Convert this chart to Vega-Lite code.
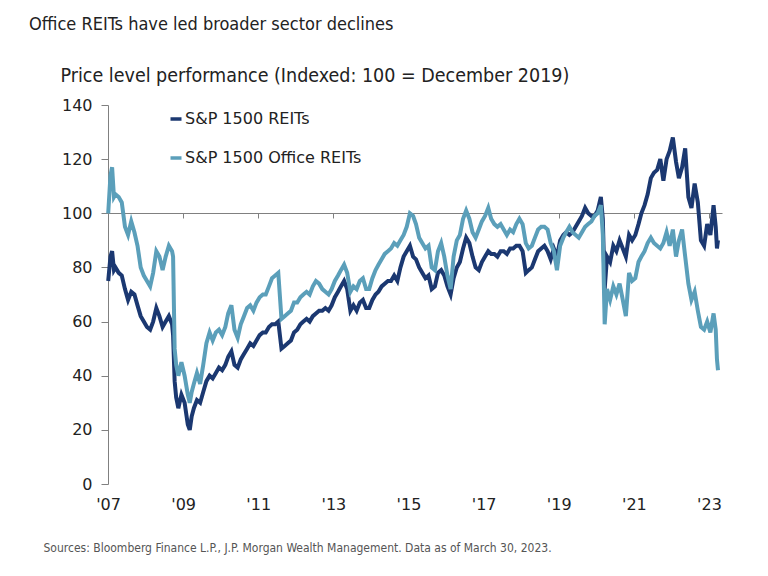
{
  "$schema": "https://vega.github.io/schema/vega-lite/v6.json",
  "width": 614,
  "height": 379,
  "autosize": {"type": "none"},
  "padding": {"left": 108, "top": 105, "right": 46, "bottom": 92},
  "background": "white",
  "title": {
    "text": "Office REITs have led broader sector declines",
    "anchor": "start",
    "frame": "group",
    "dx": -79,
    "dy": -27,
    "font": "DejaVu Sans Condensed, sans-serif",
    "fontSize": 18,
    "fontWeight": "normal",
    "color": "#222222"
  },
  "config": {"view": {"stroke": null}},
  "data": {
    "values": [
      {"d": "2007-01-03", "r": 75, "o": 100},
      {"d": "2007-01-25", "r": 84, "o": 114},
      {"d": "2007-02-10", "r": 86, "o": 117},
      {"d": "2007-02-28", "r": 79, "o": 106},
      {"d": "2007-03-15", "r": 80, "o": 107},
      {"d": "2007-04-15", "r": 78, "o": 106},
      {"d": "2007-05-15", "r": 77, "o": 104},
      {"d": "2007-06-15", "r": 72, "o": 95},
      {"d": "2007-07-15", "r": 68, "o": 92},
      {"d": "2007-08-15", "r": 71, "o": 97},
      {"d": "2007-09-15", "r": 70, "o": 93},
      {"d": "2007-10-15", "r": 66, "o": 88},
      {"d": "2007-11-15", "r": 62, "o": 80},
      {"d": "2007-12-15", "r": 60, "o": 77},
      {"d": "2008-01-15", "r": 58, "o": 75},
      {"d": "2008-02-15", "r": 57, "o": 73},
      {"d": "2008-03-15", "r": 60, "o": 78},
      {"d": "2008-04-15", "r": 65, "o": 86},
      {"d": "2008-05-15", "r": 62, "o": 84},
      {"d": "2008-06-15", "r": 58, "o": 79},
      {"d": "2008-07-15", "r": 60, "o": 84},
      {"d": "2008-08-15", "r": 62, "o": 88},
      {"d": "2008-09-15", "r": 59, "o": 86},
      {"d": "2008-09-25", "r": 55, "o": 84},
      {"d": "2008-10-10", "r": 38, "o": 50},
      {"d": "2008-10-25", "r": 32, "o": 44},
      {"d": "2008-11-15", "r": 28, "o": 40},
      {"d": "2008-12-15", "r": 33, "o": 45},
      {"d": "2009-01-15", "r": 30, "o": 40},
      {"d": "2009-02-15", "r": 22, "o": 33},
      {"d": "2009-03-06", "r": 20, "o": 30},
      {"d": "2009-03-25", "r": 25, "o": 34},
      {"d": "2009-04-15", "r": 28, "o": 37},
      {"d": "2009-05-15", "r": 31, "o": 41},
      {"d": "2009-06-15", "r": 30, "o": 37},
      {"d": "2009-07-15", "r": 34, "o": 44},
      {"d": "2009-08-15", "r": 38, "o": 52},
      {"d": "2009-09-15", "r": 40, "o": 56},
      {"d": "2009-10-15", "r": 39, "o": 53},
      {"d": "2009-11-15", "r": 41, "o": 56},
      {"d": "2009-12-15", "r": 43, "o": 57},
      {"d": "2010-01-15", "r": 42, "o": 55},
      {"d": "2010-02-15", "r": 44, "o": 58},
      {"d": "2010-03-15", "r": 47, "o": 63},
      {"d": "2010-04-15", "r": 49, "o": 66},
      {"d": "2010-05-15", "r": 44, "o": 57},
      {"d": "2010-06-15", "r": 43, "o": 54},
      {"d": "2010-07-15", "r": 46, "o": 59},
      {"d": "2010-08-15", "r": 48, "o": 62},
      {"d": "2010-09-15", "r": 50, "o": 65},
      {"d": "2010-10-15", "r": 52, "o": 66},
      {"d": "2010-11-15", "r": 51, "o": 64},
      {"d": "2010-12-15", "r": 53, "o": 67},
      {"d": "2011-01-15", "r": 55, "o": 69},
      {"d": "2011-02-15", "r": 56, "o": 70},
      {"d": "2011-03-15", "r": 56, "o": 70},
      {"d": "2011-04-15", "r": 58, "o": 73},
      {"d": "2011-05-15", "r": 59, "o": 76},
      {"d": "2011-06-15", "r": 59, "o": 77},
      {"d": "2011-07-15", "r": 60, "o": 78},
      {"d": "2011-08-15", "r": 50, "o": 61},
      {"d": "2011-09-15", "r": 51, "o": 62},
      {"d": "2011-10-15", "r": 52, "o": 63},
      {"d": "2011-11-15", "r": 53, "o": 64},
      {"d": "2011-12-15", "r": 56, "o": 67},
      {"d": "2012-01-15", "r": 57, "o": 67},
      {"d": "2012-02-15", "r": 59, "o": 69},
      {"d": "2012-03-15", "r": 60, "o": 70},
      {"d": "2012-04-15", "r": 61, "o": 71},
      {"d": "2012-05-15", "r": 60, "o": 70},
      {"d": "2012-06-15", "r": 62, "o": 73},
      {"d": "2012-07-15", "r": 63, "o": 75},
      {"d": "2012-08-15", "r": 64, "o": 74},
      {"d": "2012-09-15", "r": 64, "o": 72},
      {"d": "2012-10-15", "r": 65, "o": 71},
      {"d": "2012-11-15", "r": 64, "o": 70},
      {"d": "2012-12-15", "r": 66, "o": 72},
      {"d": "2013-01-15", "r": 69, "o": 75},
      {"d": "2013-02-15", "r": 71, "o": 77},
      {"d": "2013-03-15", "r": 73, "o": 79},
      {"d": "2013-04-15", "r": 75, "o": 81},
      {"d": "2013-05-15", "r": 72, "o": 78},
      {"d": "2013-06-15", "r": 64, "o": 71},
      {"d": "2013-07-15", "r": 66, "o": 73},
      {"d": "2013-08-15", "r": 64, "o": 72},
      {"d": "2013-09-15", "r": 67, "o": 75},
      {"d": "2013-10-15", "r": 68, "o": 76},
      {"d": "2013-11-15", "r": 65, "o": 72},
      {"d": "2013-12-15", "r": 65, "o": 72},
      {"d": "2014-01-15", "r": 68, "o": 76},
      {"d": "2014-02-15", "r": 70, "o": 79},
      {"d": "2014-03-15", "r": 71, "o": 81},
      {"d": "2014-04-15", "r": 73, "o": 83},
      {"d": "2014-05-15", "r": 74, "o": 85},
      {"d": "2014-06-15", "r": 75, "o": 86},
      {"d": "2014-07-15", "r": 75, "o": 87},
      {"d": "2014-08-15", "r": 77, "o": 89},
      {"d": "2014-09-15", "r": 75, "o": 88},
      {"d": "2014-10-15", "r": 80, "o": 90},
      {"d": "2014-11-15", "r": 84, "o": 92},
      {"d": "2014-12-15", "r": 86, "o": 95},
      {"d": "2015-01-15", "r": 88, "o": 100},
      {"d": "2015-02-15", "r": 84, "o": 99},
      {"d": "2015-03-15", "r": 83, "o": 96},
      {"d": "2015-04-15", "r": 80, "o": 91},
      {"d": "2015-05-15", "r": 78, "o": 89},
      {"d": "2015-06-15", "r": 76, "o": 87},
      {"d": "2015-07-15", "r": 77, "o": 88},
      {"d": "2015-08-15", "r": 72, "o": 80},
      {"d": "2015-09-15", "r": 73, "o": 79},
      {"d": "2015-10-15", "r": 78, "o": 86},
      {"d": "2015-11-15", "r": 79, "o": 89},
      {"d": "2015-12-15", "r": 77, "o": 84},
      {"d": "2016-01-15", "r": 73, "o": 77},
      {"d": "2016-02-15", "r": 70, "o": 72},
      {"d": "2016-03-15", "r": 76, "o": 84},
      {"d": "2016-04-15", "r": 80, "o": 90},
      {"d": "2016-05-15", "r": 82, "o": 92},
      {"d": "2016-06-15", "r": 87, "o": 98},
      {"d": "2016-07-15", "r": 91, "o": 101},
      {"d": "2016-08-15", "r": 89, "o": 98},
      {"d": "2016-09-15", "r": 84, "o": 93},
      {"d": "2016-10-15", "r": 80, "o": 91},
      {"d": "2016-11-15", "r": 79, "o": 94},
      {"d": "2016-12-15", "r": 82, "o": 97},
      {"d": "2017-01-15", "r": 84, "o": 99},
      {"d": "2017-02-15", "r": 86, "o": 102},
      {"d": "2017-03-15", "r": 85, "o": 98},
      {"d": "2017-04-15", "r": 85, "o": 96},
      {"d": "2017-05-15", "r": 84, "o": 95},
      {"d": "2017-06-15", "r": 86, "o": 96},
      {"d": "2017-07-15", "r": 86, "o": 94},
      {"d": "2017-08-15", "r": 85, "o": 92},
      {"d": "2017-09-15", "r": 87, "o": 94},
      {"d": "2017-10-15", "r": 87, "o": 93},
      {"d": "2017-11-15", "r": 88, "o": 96},
      {"d": "2017-12-15", "r": 88, "o": 98},
      {"d": "2018-01-15", "r": 86, "o": 96},
      {"d": "2018-02-15", "r": 78, "o": 89},
      {"d": "2018-03-15", "r": 79, "o": 87},
      {"d": "2018-04-15", "r": 80, "o": 88},
      {"d": "2018-05-15", "r": 83, "o": 91},
      {"d": "2018-06-15", "r": 86, "o": 94},
      {"d": "2018-07-15", "r": 87, "o": 95},
      {"d": "2018-08-15", "r": 88, "o": 95},
      {"d": "2018-09-15", "r": 86, "o": 94},
      {"d": "2018-10-15", "r": 83, "o": 89},
      {"d": "2018-11-15", "r": 87, "o": 86},
      {"d": "2018-12-15", "r": 84, "o": 79},
      {"d": "2019-01-15", "r": 90, "o": 88},
      {"d": "2019-02-15", "r": 92, "o": 91},
      {"d": "2019-03-15", "r": 93, "o": 93},
      {"d": "2019-04-15", "r": 92, "o": 95},
      {"d": "2019-05-15", "r": 93, "o": 93},
      {"d": "2019-06-15", "r": 95, "o": 92},
      {"d": "2019-07-15", "r": 97, "o": 91},
      {"d": "2019-08-15", "r": 99, "o": 93},
      {"d": "2019-09-15", "r": 102, "o": 95},
      {"d": "2019-10-15", "r": 100, "o": 96},
      {"d": "2019-11-15", "r": 99, "o": 97},
      {"d": "2019-12-15", "r": 99, "o": 99},
      {"d": "2020-01-15", "r": 101, "o": 100},
      {"d": "2020-02-15", "r": 106, "o": 103},
      {"d": "2020-03-05", "r": 98, "o": 92},
      {"d": "2020-03-23", "r": 72, "o": 59},
      {"d": "2020-04-15", "r": 84, "o": 72},
      {"d": "2020-05-15", "r": 82, "o": 68},
      {"d": "2020-06-15", "r": 88, "o": 73},
      {"d": "2020-07-15", "r": 86, "o": 70},
      {"d": "2020-08-15", "r": 90, "o": 74},
      {"d": "2020-09-15", "r": 87, "o": 68},
      {"d": "2020-10-15", "r": 84, "o": 62},
      {"d": "2020-11-15", "r": 92, "o": 78},
      {"d": "2020-12-15", "r": 90, "o": 75},
      {"d": "2021-01-15", "r": 92, "o": 76},
      {"d": "2021-02-15", "r": 96, "o": 82},
      {"d": "2021-03-15", "r": 100, "o": 84},
      {"d": "2021-04-15", "r": 103, "o": 86},
      {"d": "2021-05-15", "r": 107, "o": 89},
      {"d": "2021-06-15", "r": 113, "o": 91},
      {"d": "2021-07-15", "r": 115, "o": 89},
      {"d": "2021-08-15", "r": 116, "o": 88},
      {"d": "2021-09-15", "r": 120, "o": 87},
      {"d": "2021-10-15", "r": 112, "o": 89},
      {"d": "2021-11-15", "r": 120, "o": 93},
      {"d": "2021-12-15", "r": 123, "o": 88},
      {"d": "2022-01-15", "r": 128, "o": 94},
      {"d": "2022-02-15", "r": 119, "o": 84},
      {"d": "2022-03-15", "r": 113, "o": 90},
      {"d": "2022-04-15", "r": 117, "o": 94},
      {"d": "2022-05-15", "r": 124, "o": 84},
      {"d": "2022-06-15", "r": 106, "o": 74},
      {"d": "2022-07-15", "r": 102, "o": 68},
      {"d": "2022-08-15", "r": 111, "o": 71},
      {"d": "2022-09-15", "r": 104, "o": 64},
      {"d": "2022-10-15", "r": 90, "o": 58},
      {"d": "2022-11-15", "r": 88, "o": 57},
      {"d": "2022-12-15", "r": 96, "o": 60},
      {"d": "2023-01-15", "r": 92, "o": 56},
      {"d": "2023-02-15", "r": 103, "o": 63},
      {"d": "2023-03-08", "r": 95, "o": 57},
      {"d": "2023-03-20", "r": 87, "o": 46},
      {"d": "2023-03-30", "r": 90, "o": 42}
    ]
  },
  "layer": [
    {
      "mark": {"type": "line", "strokeWidth": 4},
      "encoding": {
        "x": {
          "field": "d",
          "type": "temporal",
          "scale": {"domain": ["2007-01-01", "2023-05-08"], "nice": false},
          "axis": {
            "orient": "bottom",
            "values": [{"year": 2007}, {"year": 2009}, {"year": 2011}, {"year": 2013}, {"year": 2015}, {"year": 2017}, {"year": 2019}, {"year": 2021}, {"year": 2023}],
            "format": "'%y",
            "domain": false,
            "ticks": false,
            "grid": false,
            "labelFlush": false,
            "labelPadding": 12,
            "labelFont": "DejaVu Sans",
            "labelFontSize": 16,
            "labelColor": "#222222",
            "title": "Sources: Bloomberg Finance L.P., J.P. Morgan Wealth Management. Data as of March 30, 2023.",
            "titleX": -65,
            "titleY": 67,
            "titleAlign": "left",
            "titleBaseline": "alphabetic",
            "titleFont": "DejaVu Sans Condensed, sans-serif",
            "titleFontSize": 12,
            "titleFontWeight": "normal",
            "titleColor": "#555555"
          }
        },
        "y": {
          "field": "r",
          "type": "quantitative",
          "scale": {"domain": [0, 140], "nice": false},
          "axis": {
            "values": [0, 20, 40, 60, 80, 100, 120, 140],
            "grid": false,
            "domainColor": "#808080",
            "tickColor": "#808080",
            "tickSize": 7,
            "labelPadding": 9,
            "labelFont": "DejaVu Sans",
            "labelFontSize": 16,
            "labelColor": "#222222",
            "title": "Price level performance (Indexed: 100 = December 2019)",
            "titleAngle": 0,
            "titleAlign": "left",
            "titleBaseline": "alphabetic",
            "titleX": -48,
            "titleY": -24,
            "titleFont": "DejaVu Sans Condensed, sans-serif",
            "titleFontSize": 19.5,
            "titleFontWeight": "normal",
            "titleColor": "#222222"
          }
        },
        "color": {
          "datum": "S&P 1500 REITs",
          "type": "nominal",
          "scale": {"domain": ["S&P 1500 REITs", "S&P 1500 Office REITs"], "range": ["#1b3871", "#5b9fba"]},
          "legend": {
            "orient": "none",
            "legendX": 60,
            "legendY": 6,
            "title": null,
            "symbolType": "stroke",
            "symbolSize": 121,
            "symbolStrokeWidth": 3.5,
            "labelFont": "DejaVu Sans",
            "labelFontSize": 16,
            "labelColor": "#222222",
            "labelLimit": 400,
            "labelOffset": 1,
            "rowPadding": 23,
            "padding": 0
          }
        }
      }
    },
    {
      "mark": {"type": "line", "strokeWidth": 4},
      "encoding": {
        "x": {
          "field": "d",
          "type": "temporal",
          "axis": {
            "orient": "top",
            "offset": -108,
            "values": [{"year": 2009}, {"year": 2011}, {"year": 2013}, {"year": 2015}, {"year": 2017}, {"year": 2019}, {"year": 2021}, {"year": 2023}],
            "labels": false,
            "grid": false,
            "domainColor": "#808080",
            "domainWidth": 1,
            "tickColor": "#808080",
            "tickSize": -5,
            "title": null
          }
        },
        "y": {
          "field": "o",
          "type": "quantitative",
          "axis": {
            "values": [0, 20, 40, 60, 80, 100, 120, 140],
            "grid": false,
            "domainColor": "#808080",
            "tickColor": "#808080",
            "tickSize": 7,
            "labelPadding": 9,
            "labelFont": "DejaVu Sans",
            "labelFontSize": 16,
            "labelColor": "#222222",
            "title": "Price level performance (Indexed: 100 = December 2019)",
            "titleAngle": 0,
            "titleAlign": "left",
            "titleBaseline": "alphabetic",
            "titleX": -48,
            "titleY": -24,
            "titleFont": "DejaVu Sans Condensed, sans-serif",
            "titleFontSize": 19.5,
            "titleFontWeight": "normal",
            "titleColor": "#222222"
          }
        },
        "color": {
          "datum": "S&P 1500 Office REITs",
          "type": "nominal",
          "legend": {
            "orient": "none",
            "legendX": 60,
            "legendY": 6,
            "title": null,
            "symbolType": "stroke",
            "symbolSize": 121,
            "symbolStrokeWidth": 3.5,
            "labelFont": "DejaVu Sans",
            "labelFontSize": 16,
            "labelColor": "#222222",
            "labelLimit": 400,
            "labelOffset": 1,
            "rowPadding": 23,
            "padding": 0
          }
        }
      }
    }
  ],
  "resolve": {"axis": {"x": "independent"}}
}
